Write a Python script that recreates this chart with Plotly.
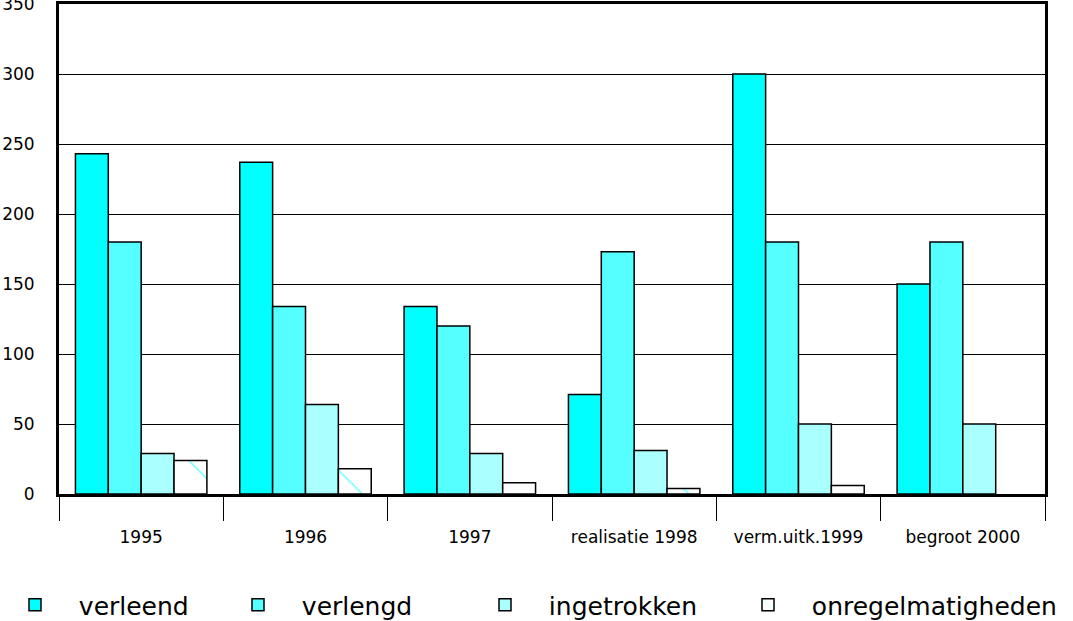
import plotly.graph_objects as go

categories = ["1995", "1996", "1997", "realisatie 1998", "verm.uitk.1999", "begroot 2000"]
verleend = [243, 237, 134, 71, 300, 150]
verlengd = [180, 134, 120, 173, 180, 180]
ingetrokken = [29, 64, 29, 31, 50, 50]
onregelmatigheden = [24, 18, 8, 4, 6, None]

series_names = ["verleend", "verlengd", "ingetrokken", "onregelmatigheden"]
series_values = [verleend, verlengd, ingetrokken, onregelmatigheden]
colors = ["#00FFFF", "#55FFFF", "#AAFFFF", "#FFFFFF"]
legend_ids = ["legend", "legend2", "legend3", "legend4"]
legend_x_px = [15, 238, 485, 748]

L, R, T, B = 59, 28, 4, 127
W, H = 1073, 621
pw = W - L - R
ph = H - T - B

fig = go.Figure()
NB = "\u00a0" * 3
for i, (name, vals) in enumerate(zip(series_names, series_values)):
    marker = dict(color=colors[i], line=dict(color="black", width=1.5))
    if name == "onregelmatigheden":
        marker["pattern"] = dict(shape="\\", fgcolor="#00FFFF", bgcolor="white",
                                 size=33, solidity=0.05)
    fig.add_trace(go.Bar(x=categories, y=vals, name=NB + name, marker=marker,
                         legend=legend_ids[i], showlegend=True))

layout_legends = {}
for i, lid in enumerate(legend_ids):
    layout_legends[lid] = dict(
        x=(legend_x_px[i] - L) / pw, xanchor="left",
        y=(H - B - 605) / ph, yanchor="middle",
        orientation="h", bgcolor="rgba(0,0,0,0)",
        font=dict(family="DejaVu Sans", size=25, color="black"),
    )

fig.update_layout(
    width=W, height=H, showlegend=True,
    margin=dict(l=L, r=R, t=T, b=B, autoexpand=False),
    paper_bgcolor="white", plot_bgcolor="white",
    barmode="group", bargap=0.2, bargroupgap=0,
    font=dict(family="DejaVu Sans", size=17, color="black"),
    **layout_legends,
)
fig.update_xaxes(
    type="category", showline=True, linewidth=3, linecolor="black", mirror=True,
    ticks="outside", tickson="boundaries", ticklen=24, tickwidth=1, tickcolor="black",
    showgrid=False, ticklabelstandoff=26, automargin=False,
    tickfont=dict(family="DejaVu Sans", size=17),
)
fig.update_yaxes(
    range=[0, 350], dtick=50, showline=True, linewidth=3, linecolor="black", mirror=True,
    showgrid=True, gridcolor="black", gridwidth=1, zeroline=False, ticks="",
    ticklabelstandoff=18, automargin=False, ticklabeloverflow="allow",
    tickfont=dict(family="DejaVu Sans", size=17),
)

fig.write_html(
    "out.html",
    config={"displayModeBar": False},
    post_script="document.body.style.margin='0';document.body.style.overflow='hidden';",
)
